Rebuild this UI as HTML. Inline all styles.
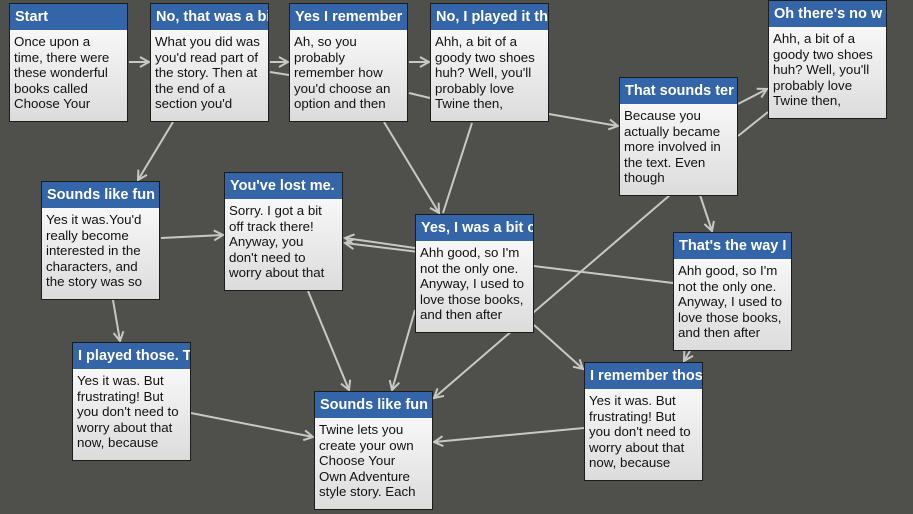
<!DOCTYPE html>
<html><head><meta charset="utf-8"><style>
html,body{margin:0;padding:0;}
body{width:913px;height:514px;background:#4f4f4b;position:relative;overflow:hidden;font-family:"Liberation Sans",Arial,sans-serif;}
svg{position:absolute;left:0;top:0;}
.b{position:absolute;width:117px;height:117px;border:1px solid #1c1c1c;background:linear-gradient(#ffffff,#dcdcdc);overflow:hidden;}
.h{background:#3465a8;color:#fff;font-weight:bold;font-size:14.5px;height:26px;line-height:26px;padding-left:5px;white-space:nowrap;overflow:hidden;}
.t{font-size:13.3px;line-height:15.5px;color:#111;padding:4px 2px 0 4px;white-space:nowrap;}
</style></head><body>
<svg width="913" height="514" viewBox="0 0 913 514">
<defs><marker id="a" markerWidth="12" markerHeight="12" refX="10" refY="6" orient="auto" markerUnits="userSpaceOnUse"><path d="M1,1 L10,6 L1,11" fill="none" stroke="#c8c8c4" stroke-width="2"/></marker></defs>
<g stroke="#c8c8c4" stroke-width="2" fill="none">
<line x1="129" y1="62" x2="149" y2="62" marker-end="url(#a)"/>
<line x1="270" y1="62" x2="288" y2="62" marker-end="url(#a)"/>
<line x1="270" y1="72" x2="289" y2="75"/>
<line x1="409" y1="62" x2="429" y2="62" marker-end="url(#a)"/>
<line x1="409" y1="93" x2="430" y2="98"/>
<line x1="173" y1="122" x2="138" y2="180" marker-end="url(#a)"/>
<line x1="384" y1="122" x2="439" y2="213" marker-end="url(#a)"/>
<line x1="472" y1="123" x2="443" y2="213"/>
<line x1="549" y1="114" x2="618" y2="126" marker-end="url(#a)"/>
<line x1="738" y1="104" x2="767" y2="89" marker-end="url(#a)"/>
<line x1="738" y1="136" x2="768" y2="112"/>
<line x1="700" y1="195" x2="712" y2="231" marker-end="url(#a)"/>
<line x1="670" y1="195" x2="434" y2="398" marker-end="url(#a)"/>
<line x1="161" y1="238" x2="223" y2="235" marker-end="url(#a)"/>
<line x1="113" y1="300" x2="120" y2="341" marker-end="url(#a)"/>
<line x1="308" y1="291" x2="349" y2="390" marker-end="url(#a)"/>
<line x1="415" y1="248" x2="345" y2="238" marker-end="url(#a)"/>
<line x1="673" y1="283" x2="345" y2="243" marker-end="url(#a)"/>
<line x1="415" y1="310" x2="392" y2="390" marker-end="url(#a)"/>
<line x1="534" y1="325" x2="583" y2="369" marker-end="url(#a)"/>
<line x1="690" y1="351" x2="684" y2="361" marker-end="url(#a)"/>
<line x1="191" y1="413" x2="313" y2="437" marker-end="url(#a)"/>
<line x1="584" y1="428" x2="434" y2="442" marker-end="url(#a)"/>
</g></svg>
<div class="b" style="left:9px;top:3px"><div class="h">Start</div><div class="t">Once upon a<br>time, there were<br>these wonderful<br>books called<br>Choose Your</div></div>
<div class="b" style="left:150px;top:3px"><div class="h">No, that was a bi</div><div class="t">What you did was<br>you'd read part of<br>the story. Then at<br>the end of a<br>section you'd</div></div>
<div class="b" style="left:289px;top:3px"><div class="h">Yes I remember</div><div class="t">Ah, so you<br>probably<br>remember how<br>you'd choose an<br>option and then</div></div>
<div class="b" style="left:430px;top:3px"><div class="h">No, I played it th</div><div class="t">Ahh, a bit of a<br>goody two shoes<br>huh? Well, you'll<br>probably love<br>Twine then,</div></div>
<div class="b" style="left:768px;top:0px"><div class="h">Oh there's no w</div><div class="t">Ahh, a bit of a<br>goody two shoes<br>huh? Well, you'll<br>probably love<br>Twine then,</div></div>
<div class="b" style="left:619px;top:77px"><div class="h">That sounds ter</div><div class="t">Because you<br>actually became<br>more involved in<br>the text. Even<br>though</div></div>
<div class="b" style="left:41px;top:181px"><div class="h">Sounds like fun</div><div class="t">Yes it was.You'd<br>really become<br>interested in the<br>characters, and<br>the story was so</div></div>
<div class="b" style="left:224px;top:172px"><div class="h">You've lost me.</div><div class="t">Sorry. I got a bit<br>off track there!<br>Anyway, you<br>don't need to<br>worry about that</div></div>
<div class="b" style="left:415px;top:214px"><div class="h">Yes, I was a bit c</div><div class="t">Ahh good, so I'm<br>not the only one.<br>Anyway, I used to<br>love those books,<br>and then after</div></div>
<div class="b" style="left:673px;top:232px"><div class="h">That's the way I</div><div class="t">Ahh good, so I'm<br>not the only one.<br>Anyway, I used to<br>love those books,<br>and then after</div></div>
<div class="b" style="left:72px;top:342px"><div class="h">I played those. T</div><div class="t">Yes it was. But<br>frustrating! But<br>you don't need to<br>worry about that<br>now, because</div></div>
<div class="b" style="left:314px;top:391px"><div class="h">Sounds like fun</div><div class="t">Twine lets you<br>create your own<br>Choose Your<br>Own Adventure<br>style story. Each</div></div>
<div class="b" style="left:584px;top:362px"><div class="h">I remember thos</div><div class="t">Yes it was. But<br>frustrating! But<br>you don't need to<br>worry about that<br>now, because</div></div>
</body></html>
